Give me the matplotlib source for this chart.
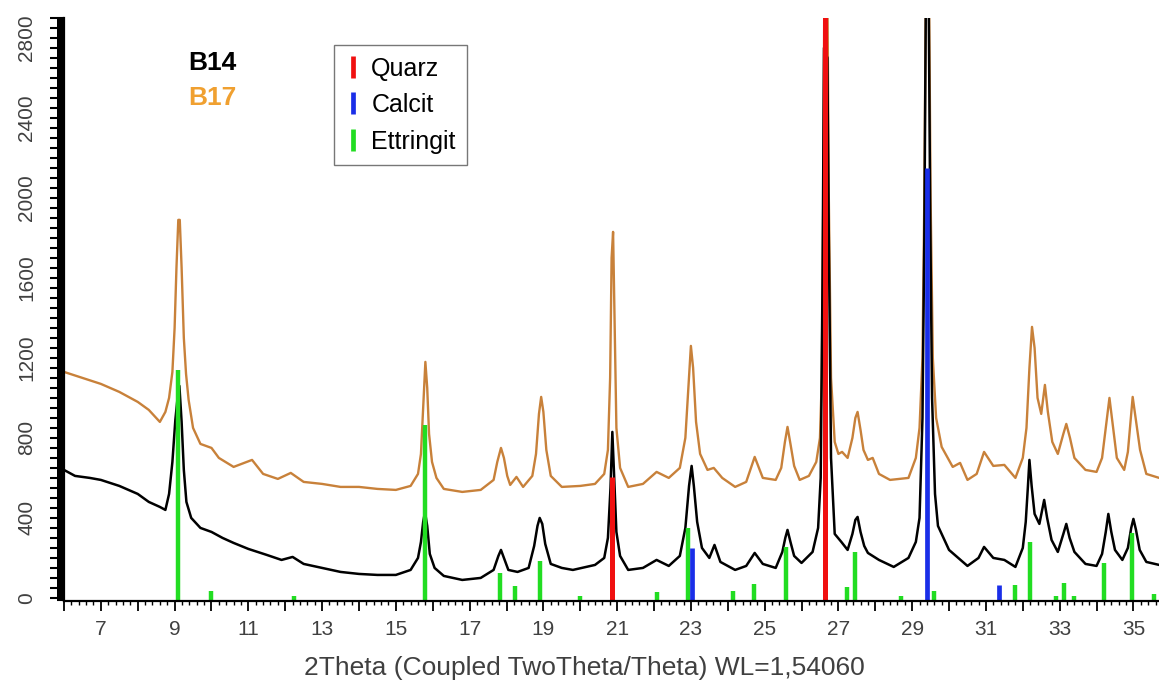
import matplotlib.pyplot as plt
from matplotlib.lines import Line2D
from matplotlib.ticker import MultipleLocator, FuncFormatter

plt.rcParams['font.family'] = ['Liberation Sans', 'DejaVu Sans']

# B17 pattern (2theta, counts)
b17_points = [
    (6.0, 1130), (6.5, 1100), (7.0, 1070), (7.5, 1030), (8.0, 980), (8.3, 940),
    (8.6, 880), (8.75, 930), (8.85, 1000), (8.94, 1130), (9.0, 1350), (9.05, 1650),
    (9.1, 1890), (9.14, 1890), (9.19, 1650), (9.25, 1300), (9.31, 1120), (9.38, 990),
    (9.5, 850), (9.7, 770), (10.0, 750), (10.2, 700), (10.6, 655),
    (11.1, 690), (11.4, 620), (11.8, 595), (12.15, 625), (12.5, 580), (13.0, 570),
    (13.5, 555), (14.0, 555), (14.5, 545), (15.0, 540), (15.4, 560), (15.6, 620),
    (15.68, 720), (15.74, 950), (15.8, 1180), (15.85, 1050), (15.9, 820), (15.98, 680),
    (16.1, 600), (16.3, 545), (16.8, 530),
    (17.3, 540), (17.65, 590), (17.75, 680), (17.85, 750), (17.93, 700), (18.02, 610),
    (18.1, 565), (18.27, 605), (18.45, 555), (18.7, 610), (18.8, 720), (18.88, 920),
    (18.94, 1005), (19.0, 930), (19.08, 740), (19.2, 610), (19.5, 555), (20.0, 560),
    (20.4, 570), (20.65, 620), (20.75, 740), (20.81, 1100), (20.85, 1700), (20.89, 1830),
    (20.93, 1400), (20.98, 850), (21.08, 650), (21.3, 555), (21.7, 570), (22.07, 630),
    (22.4, 600), (22.7, 650), (22.85, 800), (22.93, 1050), (23.0, 1260), (23.06, 1150),
    (23.14, 880), (23.25, 720), (23.45, 640), (23.62, 650), (23.85, 600), (24.2, 555),
    (24.5, 580), (24.73, 705), (24.95, 600), (25.3, 590), (25.45, 650), (25.55, 780),
    (25.62, 855), (25.7, 770), (25.8, 660), (25.95, 590), (26.2, 610), (26.4, 680),
    (26.5, 800), (26.55, 1100), (26.59, 2000), (26.62, 3100), (26.7, 3100), (26.74, 2000),
    (26.8, 1100), (26.9, 780), (27.0, 720), (27.1, 730), (27.25, 700), (27.38, 800),
    (27.46, 900), (27.52, 930), (27.6, 840), (27.68, 740), (27.8, 690), (27.93, 700),
    (28.1, 620), (28.4, 590), (28.9, 600), (29.1, 700), (29.2, 850), (29.28, 1200),
    (29.33, 2000), (29.37, 3000), (29.46, 3000), (29.5, 2000), (29.56, 1200), (29.65, 900),
    (29.8, 755), (30.1, 655), (30.3, 675), (30.5, 590), (30.75, 620), (30.95, 730),
    (31.2, 660), (31.5, 665), (31.8, 600), (32.0, 700), (32.1, 850), (32.18, 1150),
    (32.25, 1355), (32.32, 1250), (32.4, 1000), (32.5, 920), (32.6, 1065), (32.68, 930),
    (32.8, 780), (32.95, 720), (33.1, 820), (33.18, 870), (33.28, 800), (33.4, 700),
    (33.7, 640), (34.0, 630), (34.15, 700), (34.25, 850), (34.35, 1000), (34.43, 880),
    (34.55, 700), (34.75, 640), (34.85, 730), (34.92, 880), (34.98, 1005), (35.06, 900),
    (35.18, 740), (35.35, 620), (35.7, 600),
]

# B14 pattern
b14_points = [
    (6.0, 640), (6.3, 610), (6.7, 600), (7.0, 590), (7.5, 560), (8.0, 520), (8.3, 480),
    (8.6, 455), (8.75, 440), (8.85, 520), (8.94, 680), (9.02, 890), (9.08, 1000),
    (9.13, 1060), (9.19, 880), (9.25, 640), (9.32, 480), (9.45, 400), (9.7, 350),
    (10.0, 330), (10.3, 300), (10.6, 275), (11.0, 245), (11.5, 215), (11.9, 190),
    (12.2, 205), (12.5, 170), (13.0, 150), (13.5, 130), (14.0, 120), (14.5, 115),
    (15.0, 115), (15.4, 140), (15.6, 200), (15.68, 280), (15.74, 380), (15.79, 430),
    (15.85, 360), (15.92, 220), (16.05, 150), (16.3, 110), (16.8, 90), (17.3, 100),
    (17.65, 140), (17.78, 210), (17.85, 240), (17.93, 200), (18.05, 140), (18.3, 130),
    (18.6, 150), (18.75, 260), (18.84, 360), (18.9, 400), (18.97, 370), (19.05, 270),
    (19.2, 170), (19.5, 150), (19.8, 140), (20.4, 165), (20.65, 200), (20.75, 300),
    (20.82, 550), (20.87, 830), (20.92, 600), (20.98, 330), (21.08, 210), (21.3, 140),
    (21.7, 150), (22.07, 190), (22.4, 160), (22.7, 210), (22.85, 350), (22.95, 560),
    (23.02, 660), (23.08, 560), (23.17, 380), (23.3, 250), (23.5, 200), (23.64, 265),
    (23.8, 180), (24.2, 140), (24.5, 160), (24.73, 225), (24.95, 170), (25.3, 150),
    (25.48, 230), (25.56, 300), (25.62, 340), (25.7, 280), (25.8, 210), (26.0, 175),
    (26.3, 230), (26.45, 350), (26.52, 600), (26.57, 1600), (26.61, 2750), (26.7, 2700),
    (26.74, 1800), (26.8, 700), (26.9, 320), (27.08, 280), (27.25, 240), (27.38, 320),
    (27.46, 390), (27.52, 405), (27.6, 330), (27.7, 260), (27.8, 225), (28.1, 190),
    (28.5, 155), (28.9, 200), (29.1, 280), (29.2, 400), (29.28, 900), (29.33, 1800),
    (29.37, 2950), (29.45, 2950), (29.49, 1900), (29.54, 1000), (29.62, 520), (29.7, 360),
    (30.0, 240), (30.5, 160), (30.8, 200), (30.95, 255), (31.2, 200), (31.5, 190),
    (31.8, 155), (32.0, 250), (32.08, 380), (32.14, 560), (32.18, 690), (32.24, 560),
    (32.32, 420), (32.45, 370), (32.58, 490), (32.66, 400), (32.78, 290), (32.95, 230),
    (33.1, 320), (33.18, 370), (33.27, 300), (33.4, 230), (33.7, 170), (34.0, 160),
    (34.15, 220), (34.25, 330), (34.32, 420), (34.4, 330), (34.5, 240), (34.7, 190),
    (34.85, 250), (34.94, 350), (35.0, 395), (35.07, 340), (35.17, 240), (35.35, 180),
    (35.7, 165),
]

# reference stick patterns
quarz_pos = [20.86, 26.64]
quarz_int = [605, 3000]
calcit_pos = [23.03, 29.40, 31.36]
calcit_int = [250, 2150, 65]
ettr_pos = [9.09, 9.98, 12.25, 15.78, 17.83, 18.22, 18.9, 20.0, 22.07, 22.92, 24.15,
            24.7, 25.59, 27.22, 27.46, 28.7, 29.58, 31.8, 32.2, 32.9, 33.13, 33.4,
            34.2, 34.95, 35.55]
ettr_int = [1140, 35, 8, 865, 125, 60, 185, 8, 30, 350, 35, 70, 255, 55, 230, 8, 35,
            65, 280, 8, 75, 10, 175, 325, 20]

b17_x, b17_y = zip(*b17_points)
b14_x, b14_y = zip(*b14_points)

fig = plt.figure(figsize=(11.59, 6.86), dpi=100)
ax = fig.add_axes([0.0552, 0.124, 0.945, 0.850])

ymin = -15
ax.plot(b17_x, b17_y, color='#C8813A', lw=1.7)
ax.plot(b14_x, b14_y, color='black', lw=1.8)
ax.vlines(ettr_pos, ymin, ettr_int, color='#22DD22', lw=3.2)
ax.vlines(calcit_pos, ymin, calcit_int, color='#1A2EE8', lw=3.4)
ax.vlines(quarz_pos, ymin, quarz_int, color='#F01010', lw=3.6)

ax.set_xlim(6.0, 35.7)
ax.set_ylim(ymin, 2900)

for s in ['top', 'right']:
    ax.spines[s].set_visible(False)
ax.spines['left'].set_linewidth(1.6)
ax.spines['bottom'].set_linewidth(1.6)

ax.xaxis.set_major_locator(MultipleLocator(1))
ax.xaxis.set_minor_locator(MultipleLocator(0.2))
ax.xaxis.set_major_formatter(FuncFormatter(lambda v, p: f'{v:.0f}' if round(v) % 2 == 1 else ''))
ax.yaxis.set_major_locator(MultipleLocator(50))
ax.yaxis.set_minor_locator(MultipleLocator(10))
ax.yaxis.set_major_formatter(FuncFormatter(lambda v, p: f'{v:.0f}' if round(v) % 400 == 0 else ''))

ax.tick_params(axis='x', which='major', length=7, width=1.3, labelsize=15,
               labelcolor='#404040', pad=7)
ax.tick_params(axis='x', which='minor', length=3, width=1.0)
ax.tick_params(axis='y', which='major', length=10, width=1.5, labelsize=15,
               labelcolor='#404040', pad=10)
ax.tick_params(axis='y', which='minor', length=5, width=1.5)
for lab in ax.get_yticklabels():
    lab.set_rotation(90)
    lab.set_va('center')

ax.set_xlabel('2Theta (Coupled TwoTheta/Theta) WL=1,54060', fontsize=19,
              color='#404040')
ax.xaxis.set_label_coords(0.475, -0.095)

fig.text(0.162, 0.908, 'B14', fontsize=19, fontweight='bold', color='black',
         ha='left', va='center')
fig.text(0.162, 0.857, 'B17', fontsize=19, fontweight='bold', color='#F0A030',
         ha='left', va='center')

handles = [Line2D([], [], color=c, marker='|', linestyle='None', markersize=16,
                  markeredgewidth=3.4) for c in ['#F01010', '#1A2EE8', '#22DD22']]
leg = fig.legend(handles, ['Quarz', 'Calcit', 'Ettringit'], loc='upper left',
                 bbox_to_anchor=(0.288, 0.934), fontsize=18, frameon=True,
                 fancybox=False, edgecolor='#555555', handlelength=0.6,
                 handletextpad=0.45, labelspacing=0.5, borderpad=0.45,
                 borderaxespad=0)
leg.get_frame().set_linewidth(1.0)

fig.savefig('out.png', dpi=100)
